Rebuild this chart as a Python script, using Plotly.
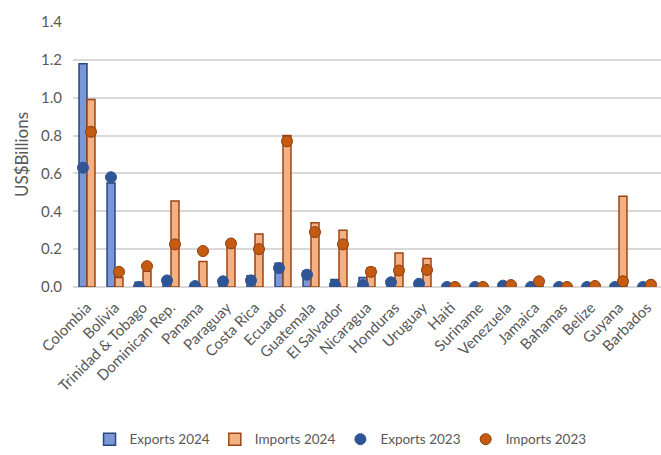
import plotly.graph_objects as go

countries = ["Colombia", "Bolivia", "Trinidad & Tobago", "Dominican Rep.", "Panama", "Paraguay",
             "Costa Rica", "Ecuador", "Guatemala", "El Salvador", "Nicaragua", "Honduras", "Uruguay",
             "Haiti", "Suriname", "Venezuela", "Jamaica", "Bahamas", "Belize", "Guyana", "Barbados"]
exports_2024 = [1.18, 0.55, 0.025, 0.04, 0.0, 0.02, 0.06, 0.125, 0.085, 0.04, 0.05, 0.02, 0.01,
                0.0, 0.0, 0.005, 0.0, 0.0, 0.0, 0.0, 0.0]
imports_2024 = [0.99, 0.05, 0.085, 0.455, 0.135, 0.23, 0.28, 0.80, 0.34, 0.30, 0.10, 0.18, 0.15,
                0.003, 0.003, 0.01, 0.02, 0.003, 0.005, 0.48, 0.01]
exports_2023 = [0.63, 0.58, 0.0, 0.035, 0.005, 0.03, 0.035, 0.10, 0.065, 0.01, 0.01, 0.025, 0.017,
                0.0, 0.0, 0.007, 0.0, 0.0, 0.0, 0.0, 0.0]
imports_2023 = [0.82, 0.08, 0.11, 0.225, 0.19, 0.23, 0.20, 0.77, 0.29, 0.225, 0.08, 0.087, 0.09,
                0.0, 0.0, 0.01, 0.03, 0.0, 0.005, 0.03, 0.012]
y_ticks = [0.0, 0.2, 0.4, 0.6, 0.8, 1.0, 1.2, 1.4]

font_family = "Lato, 'Open Sans', sans-serif"
grey = "#595959"

fig = go.Figure()
fig.add_trace(go.Bar(x=countries, y=exports_2024, name="Exports 2024",
                     marker=dict(color="#7a97d6", line=dict(color="#2a4680", width=1.5))))
fig.add_trace(go.Bar(x=countries, y=imports_2024, name="Imports 2024",
                     marker=dict(color="#f4b183", line=dict(color="#9c4412", width=1.5))))
fig.add_trace(go.Scatter(x=countries, y=exports_2023, name="Exports 2023", mode="markers",
                         marker=dict(color="#2f5597", size=11, line=dict(color="#2f5597", width=1))))
fig.add_trace(go.Scatter(x=countries, y=imports_2023, name="Imports 2023", mode="markers",
                         marker=dict(color="#c55a11", size=11, line=dict(color="#8e3d0a", width=1))))

fig.update_layout(
    width=661, height=455,
    margin=dict(l=73, r=0, t=22, b=165),
    paper_bgcolor="white", plot_bgcolor="white",
    barmode="group", bargap=0.43, bargroupgap=0,
    scattermode="group", scattergap=0.43,
    font=dict(family=font_family, color=grey, size=14),
    showlegend=True,
    legend=dict(orientation="h", x=0.455, xanchor="center", y=-0.575, yanchor="middle",
                font=dict(size=13.5, color=grey), itemwidth=30, traceorder="normal"),
    xaxis=dict(tickangle=-45, showgrid=False, showline=False, ticks="",
               ticklabelstandoff=8,
               tickfont=dict(size=15, color=grey)),
    yaxis=dict(range=[0, 1.4], tickvals=y_ticks, ticktext=[f"{v:.1f}" for v in y_ticks],
               showgrid=True, gridcolor="#d9d9d9", gridwidth=1.5, zeroline=True,
               zerolinecolor="#d9d9d9", zerolinewidth=1.5, showline=False, ticks="",
               ticklabelstandoff=10,
               tickfont=dict(size=15, color=grey),
               title=dict(text="US$Billions", font=dict(size=17, color=grey), standoff=8)),
)

fig.write_html("out.html")
